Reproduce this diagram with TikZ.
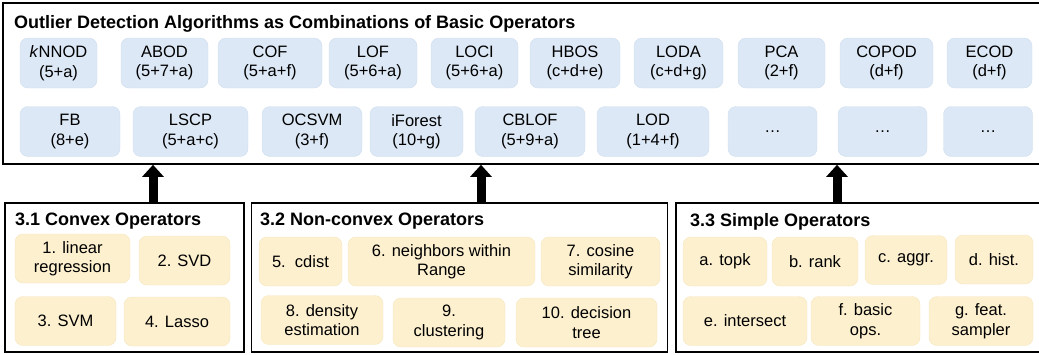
\documentclass[tikz,border=0pt]{standalone}
\usepackage{fontspec}
\setmainfont{Liberation Sans}
\usepackage{tikz}
\usetikzlibrary{arrows.meta}

\definecolor{algofill}{RGB}{220,232,245}
\definecolor{algoline}{RGB}{208,222,238}
\definecolor{opfill}{RGB}{253,240,207}
\definecolor{opline}{RGB}{247,230,190}

\begin{document}
\begin{tikzpicture}[
  x=1pt, y=-1pt,
  panel/.style={draw, line width=1.6pt, rectangle, inner sep=0pt},
  algo/.style={draw=algoline, fill=algofill, rectangle, rounded corners=8pt,
               align=center, inner sep=0pt, minimum height=50pt,
               font=\fontsize{16.5}{19.5}\selectfont},
  op/.style={draw=opline, fill=opfill, rectangle, rounded corners=8pt,
             align=center, inner sep=0pt, minimum height=49pt,
             font=\fontsize{16.5}{19.5}\selectfont},
  heading/.style={anchor=base west, inner sep=0pt,
                  font=\fontsize{18}{21}\selectfont\bfseries},
  uparrow/.style={line width=9pt, -{Triangle[length=12pt, width=21pt]}}
]
\useasboundingbox (0,0) rectangle (1039,354);

% panels
\node[panel, minimum width=1042pt, minimum height=161pt] (algos) at (524,83.5) {};
\node[panel, minimum width=239pt, minimum height=149pt] (convex) at (124.5,277.5) {};
\node[panel, minimum width=416pt, minimum height=149pt] (nonconvex) at (459.5,277.5) {};
\node[panel, minimum width=369pt, minimum height=149pt] (simple) at (860.5,277.5) {};

% headings
\node[heading] (algostitle) at (14,28) {Outlier Detection Algorithms as Combinations of Basic Operators};
\node[heading] (convextitle) at (15,225) {3.1 Convex Operators};
\node[heading] (nonconvextitle) at (260,225) {3.2 Non-convex Operators};
\node[heading] (simpletitle) at (690,226) {3.3 Simple Operators};

% algorithms, first row
\node[algo, minimum width=77pt] (knnod) at (58.5,63) {\textit{k}NNOD\\(5+a)};
\node[algo, minimum width=87pt] (abod) at (164.5,63) {ABOD\\(5+7+a)};
\node[algo, minimum width=104pt] (cof) at (270,63) {COF\\(5+a+f)};
\node[algo, minimum width=88pt] (lof) at (373,63) {LOF\\(5+6+a)};
\node[algo, minimum width=87pt] (loci) at (474.5,63) {LOCI\\(5+6+a)};
\node[algo, minimum width=90pt] (hbos) at (575,63) {HBOS\\(c+d+e)};
\node[algo, minimum width=89pt] (loda) at (678.5,63) {LODA\\(c+d+g)};
\node[algo, minimum width=87pt] (pca) at (781.5,63) {PCA\\(2+f)};
\node[algo, minimum width=93pt] (copod) at (886.5,63) {COPOD\\(d+f)};
\node[algo, minimum width=85pt] (ecod) at (989.5,63) {ECOD\\(d+f)};

% algorithms, second row
\node[algo, minimum width=100pt] (fb) at (70,131.5) {FB\\(8+e)};
\node[algo, minimum width=115pt] (lscp) at (190.5,131.5) {LSCP\\(5+a+c)};
\node[algo, minimum width=100pt] (ocsvm) at (312,131.5) {OCSVM\\(3+f)};
\node[algo, minimum width=93pt] (iforest) at (416.5,131.5) {iForest\\(10+g)};
\node[algo, minimum width=110pt] (cblof) at (530,131.5) {CBLOF\\(5+9+a)};
\node[algo, minimum width=112pt] (lod) at (653,131.5) {LOD\\(1+4+f)};
\node[algo, minimum width=89pt] (more1) at (772.5,131.5) {\dots};
\node[algo, minimum width=89pt] (more2) at (882.5,131.5) {\dots};
\node[algo, minimum width=89pt] (more3) at (988,131.5) {\dots};

% convex operators
\node[op, minimum width=115pt] (linreg) at (72.5,258.5) {1. linear\\regression};
\node[op, minimum width=91pt] (svd) at (184.5,260.5) {2. SVD};
\node[op, minimum width=101pt] (svm) at (65.5,321) {3. SVM};
\node[op, minimum width=106pt] (lasso) at (177,321.5) {4. Lasso};

% non-convex operators
\node[op, minimum width=83pt] (cdist) at (300.5,261.5) {5.\ \ cdist};
\node[op, minimum width=187pt] (neighbors) at (441.5,261.5) {6. neighbors within\\Range};
\node[op, minimum width=119pt] (cosine) at (600.5,261.5) {7. cosine\\similarity};
\node[op, minimum width=122pt] (density) at (322,320) {8. density\\estimation};
\node[op, minimum width=112pt] (clustering) at (449,322.5) {9.\\clustering};
\node[op, minimum width=141pt] (dtree) at (586.5,322.5) {10. decision\\tree};

% simple operators
\node[op, minimum width=84pt] (topk) at (725,261.5) {a. topk};
\node[op, minimum width=86pt] (rank) at (815,261.5) {b. rank};
\node[op, minimum width=82pt] (aggr) at (906,260) {c. aggr.};
\node[op, minimum width=78pt] (hist) at (994,259.5) {d. hist.};
\node[op, minimum width=124pt] (intersect) at (745,321) {e. intersect};
\node[op, minimum width=109pt] (basic) at (865.5,321) {f. basic\\ops.};
\node[op, minimum width=104pt] (sampler) at (981,321) {g. feat.\\sampler};

% arrows up to the algorithms
\draw[uparrow] ([xshift=28.5pt]convex.north) -- ([xshift=28.5pt]convex.north |- algos.south);
\draw[uparrow] ([xshift=21.5pt]nonconvex.north) -- ([xshift=21.5pt]nonconvex.north |- algos.south);
\draw[uparrow] ([xshift=-23.5pt]simple.north) -- ([xshift=-23.5pt]simple.north |- algos.south);

\end{tikzpicture}
\end{document}
